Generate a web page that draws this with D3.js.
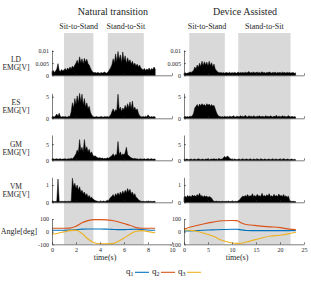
<!DOCTYPE html>
<html>
<head>
<meta charset="utf-8">
<title>EMG natural vs device assisted</title>
<script src="https://d3js.org/d3.v7.min.js"></script>
<style>
  body { margin: 0; background: #fff; }
  svg { display: block; }
  text { font-family: "Liberation Serif", "Times New Roman", serif; }
  .axis path, .axis line { stroke: #262626; stroke-width: 0.6px; }
  .axis text { fill: #262626; font-size: 6px; font-family: "Liberation Serif", "Times New Roman", serif; }
</style>
</head>
<body>
<svg width="311" height="284"></svg>
<script>
// time grid of the EMG samples (s)
var stepL = 0.1, stepR = 0.25;

// LD in 1e-3 V, left = natural transition, right = device assisted
var ldLeft = [1.5,2.0,1.2,1.8,2.6,4.8,2.0,1.6,2.4,1.8, 2.2,2.8,2.0,3.0,2.4,3.4,2.6,3.8,3.0,4.2,
  5.0,6.2,4.4,7.6,5.2,6.8,4.6,7.0,5.4,6.6, 4.8,4.2,3.0,2.0,1.4,1.0,1.2,0.9,1.1,1.0,
  0.8,1.2,0.9,1.1,1.4,0.8,1.0,1.6,2.4,3.2, 4.4,6.8,5.0,8.8,5.6,9.8,6.4,8.4,5.2,9.6,
  6.0,8.0,4.8,7.2,5.4,6.4,4.6,5.8,4.2,5.0, 3.8,4.6,3.4,4.2,3.0,2.6,2.2,2.8,2.0,2.6,
  2.2,3.0,2.0,2.8,2.4,3.4,2.6];
var ldRight = [0.8,1.0,0.7,0.9, 1.0,1.4,1.2,1.6, 2.0,3.4,2.6,4.2, 3.2,5.0,3.6,5.8,
  4.0,5.6,4.2,5.4, 3.8,5.8,4.0,5.2, 3.4,4.6,2.6,2.0, 1.4,1.2,1.0,1.1,
  0.9,1.1,0.8,1.2,1.0,0.9,1.3,0.8, 1.1,0.9,1.2,1.0,0.8,1.4,0.9,1.1,
  1.0,1.2,0.9,1.3,1.0,1.1,1.6,0.9, 1.2,1.0,1.4,0.9,1.1,1.3,1.0,1.2,
  0.9,1.5,1.0,1.1,0.9,1.2,1.0,1.4, 1.1,0.9,1.2,1.0,1.3,0.9,1.1,1.0,
  1.2,0.9,1.3,1.0,1.1,0.9,1.2,1.0, 1.1,0.9,1.0,1.2,0.8,1.0];

var esLeft = [0.3,0.4,0.3,0.6,1.0,0.5,1.2,0.4,0.3,0.4, 0.3,0.4,0.3,0.3,0.5,0.4,1.5,3.6,2.4,4.6,
  3.2,5.2,3.6,5.8,3.8,5.6,3.0,4.6,2.6,3.6, 2.2,2.8,1.4,0.8,0.4,0.3,0.3,0.4,0.3,0.3,
  0.3,0.4,0.3,0.3,0.4,0.3,0.4,0.3,0.5,0.8, 1.6,2.2,1.4,2.0,1.8,5.6,2.0,2.6,1.6,2.4,
  2.0,3.0,2.2,3.4,2.4,3.8,2.2,4.0,2.0,2.6, 1.8,2.2,1.2,0.6,0.4,0.3,0.4,0.3,0.5,0.3,
  0.8,0.4,0.3,0.4,0.3,0.4,0.3];
var esRight = [0.3,0.4,0.3,0.4,0.3,0.5,0.4,0.6, 1.2,2.4,2.8,3.2,2.6,3.3,2.9,3.4,
  3.0,3.2,2.8,3.4,3.0,3.3,2.8,3.2, 2.8,3.0,2.2,1.4,0.8,0.5,0.4,0.3,
  0.4,0.3,0.5,0.3,0.4,0.3,0.5,0.4, 0.3,0.6,0.4,0.3,0.5,0.4,0.3,0.6,
  0.4,0.5,0.3,0.7,0.4,0.3,0.6,0.4, 0.5,0.3,0.6,0.4,0.3,0.5,0.4,0.6,
  0.3,0.5,0.4,0.3,0.6,0.4,0.5,0.3, 0.6,0.4,0.3,0.5,0.4,0.7,0.3,0.5,
  0.4,0.3,0.6,0.4,0.5,0.3,0.4,0.6, 0.4,0.3,0.5,0.3,0.4,0.3];

var gmLeft = [0.4,0.5,0.3,0.4,0.5,0.3,0.4,0.5,0.3,0.4, 0.4,0.5,0.3,0.4,0.5,0.4,0.6,0.5,0.8,1.4,
  2.0,3.2,2.4,6.4,3.0,4.0,2.6,6.4,3.2,4.2, 2.6,3.4,2.0,2.6,1.6,1.2,1.4,1.0,0.8,0.7,
  0.8,0.6,0.7,0.5,0.6,0.5,0.8,0.6,0.9,1.2, 1.4,2.0,1.2,1.8,1.6,5.8,1.8,2.6,1.4,2.0,
  1.6,2.4,4.0,1.8,1.4,1.0,0.8,0.6,0.5,0.6, 0.4,0.5,0.3,0.4,0.5,0.3,0.4,0.5,0.3,0.4,
  0.5,0.3,0.4,0.5,0.3,0.4,0.4];
var gmRight = [0.3,0.2,0.4,0.3,0.2,0.3,0.4,0.2, 0.3,0.4,0.2,0.3,0.5,0.3,0.2,0.4,
  0.3,0.2,0.4,0.3,0.5,0.2,0.3,0.4, 0.3,0.5,0.3,0.4,0.2,0.6,0.3,0.4,
  0.4,0.9,1.2,0.8,1.3,1.1,0.6,0.4,
  0.3,0.2,0.4,0.3,0.2,0.3,0.4,0.2, 0.3,0.5,0.2,0.3,0.4,0.3,0.2,0.5,
  0.3,0.2,0.4,0.3,0.2,0.4,0.3,0.2, 0.5,0.3,0.2,0.4,0.3,0.2,0.3,0.4,
  0.2,0.3,0.5,0.2,0.3,0.4,0.2,0.3, 0.4,0.2,0.3,0.5,0.3,0.2,0.4,0.3,
  0.2,0.3,0.4,0.2,0.3,0.2];

var vmLeft = [0.05,0.06,0.04,0.05,0.06,1.35,0.05,0.04,0.06,0.05, 0.05,0.06,0.04,0.05,0.06,0.05,0.06,1.4,0.9,1.1,
  0.8,1.0,0.7,0.9,0.6,0.7,0.5,0.6,0.4,0.5, 0.3,0.4,0.25,0.3,0.2,0.15,0.1,0.08,0.06,0.05,
  0.05,0.06,0.04,0.08,0.05,0.06,0.12,0.08,0.2,0.3, 0.35,0.45,0.3,0.5,0.4,0.55,0.4,0.6,0.45,0.65,
  0.5,0.7,0.55,0.8,0.6,0.75,0.5,0.6,0.4,0.5, 0.3,0.25,0.15,0.1,0.06,0.05,0.06,0.04,0.05,0.06,
  0.05,0.04,0.06,0.05,0.04,0.06,0.05];
var vmRight = [0.3,0.35,0.28,0.4,0.32,0.38,0.3,0.42, 0.35,0.4,0.32,0.45,0.36,0.52,0.34,0.4,
  0.3,0.38,0.32,0.36,0.28,0.34,0.3,0.25,
  0.12,0.06,0.05,0.07,0.04,0.06,0.05,0.04, 0.06,0.05,0.04,0.06,0.05,0.07,0.04,0.05,
  0.06,0.04,0.05,0.06,0.04,0.08,0.12,0.2,
  0.3,0.36,0.32,0.4,0.34,0.45,0.33,0.38, 0.35,0.5,0.34,0.4,0.32,0.46,0.36,0.38,
  0.34,0.52,0.35,0.4,0.33,0.44,0.36,0.5, 0.34,0.38,0.32,0.46,0.35,0.4,0.33,0.48,
  0.36,0.4,0.34,0.45,0.32,0.38,0.3,0.36,
  0.12,0.06,0.05,0.06,0.04,0.05];

// joint angles (deg)
var angTimeL = [0, 0.5, 1.0, 1.5, 2.0, 2.5, 3.0, 3.5, 4.0, 4.5, 5.0, 5.5, 6.0, 6.5, 7.0, 7.5, 8.0, 8.6];
var q1Left = [11, 11, 11, 12, 16, 20, 21, 21, 21, 20, 18, 16, 16, 18, 19, 17, 13, 11];
var q2Left = [27, 27, 27, 28, 42, 70, 87, 95, 95, 93, 88, 78, 64, 50, 32, 27, 27, 27];
var q3Left = [-21, -12, -2, 8, 12, -15, -58, -88, -96, -96, -95, -78, -50, -20, 3, 8, 0, -10];

var angTimeR = [0, 2, 4, 6, 8, 10, 11, 12, 13, 14, 16, 18, 20, 22, 23.3];
var q1Right = [5, 8, 11, 14, 17, 19, 19, 14, 9, 8, 8, 8, 8, 8, 8];
var q2Right = [20, 42, 60, 75, 86, 88, 87, 68, 56, 52, 44, 38, 32, 20, 16];
var q3Right = [15, 8, -10, -35, -70, -90, -93, -92, -82, -72, -52, -35, -28, -15, -5];

// phase windows (s)
var phasesL = [[1.0, 3.45], [4.65, 7.65]];
var phasesR = [[1.1, 8.5], [11.3, 22.2]];
var phaseNames = ["Sit-to-Stand", "Stand-to-Sit"];
var titles = ["Natural transition", "Device Assisted"];
var qColors = ["#0072BD", "#D95319", "#EDB120"];

var svg = d3.select("svg");
var serif = "'Liberation Serif', 'Times New Roman', serif";
var plain = function (d) { return String(d); };

var xL = d3.scaleLinear().domain([0, 10]).range([52, 172]);
var xR = d3.scaleLinear().domain([0, 25]).range([184, 304]);

var rows = [
  { name: "LD", y: d3.scaleLinear().domain([0, 10.4]).range([75.3, 50]), ticks: [0, 5, 10],
    fmt: function (d) { return d === 0 ? "0" : String(d / 1000); }, left: ldLeft, right: ldRight },
  { name: "ES", y: d3.scaleLinear().domain([0, 5.8]).range([118.3, 93.3]), ticks: [0, 5], left: esLeft, right: esRight },
  { name: "GM", y: d3.scaleLinear().domain([0, 7.8]).range([160.3, 135]), ticks: [0, 5], left: gmLeft, right: gmRight },
  { name: "VM", y: d3.scaleLinear().domain([0, 1.45]).range([202.3, 177.3]), ticks: [0, 1], left: vmLeft, right: vmRight }
];
var yA = d3.scaleLinear().domain([-100, 100]).range([244.3, 219]);

var sides = [
  { x: xL, step: stepL, phases: phasesL, key: "left", t: angTimeL, q: [q1Left, q2Left, q3Left], ticks: [0, 2, 4, 6, 8, 10] },
  { x: xR, step: stepR, phases: phasesR, key: "right", t: angTimeR, q: [q1Right, q2Right, q3Right], ticks: [0, 5, 10, 15, 20, 25] }
];

function styleAxis(g) {
  g.attr("font-family", serif).attr("font-size", 6);
}

sides.forEach(function (s, si) {
  // shaded phases
  s.phases.forEach(function (p, pi) {
    svg.append("rect")
      .attr("x", s.x(p[0])).attr("y", 33)
      .attr("width", s.x(p[1]) - s.x(p[0])).attr("height", 244.3 - 33)
      .attr("fill", "#d9d9d9");
    svg.append("text")
      .attr("x", (s.x(p[0]) + s.x(p[1])) / 2).attr("y", 28.5)
      .attr("text-anchor", "middle").attr("font-size", "8px").attr("fill", "#262626")
      .attr("font-family", serif)
      .text(phaseNames[pi]);
  });

  svg.append("text")
    .attr("x", (s.x.range()[0] + s.x.range()[1]) / 2 + 1).attr("y", 15)
    .attr("text-anchor", "middle").attr("font-size", "10px").attr("fill", "#262626")
    .attr("font-family", serif)
    .text(titles[si]);

  rows.forEach(function (r) {
    var vals = r[s.key];
    var area = d3.area()
      .x(function (d, i) { return s.x(i * s.step); })
      .y0(r.y(0))
      .y1(function (d) { return r.y(d); });
    svg.append("path")
      .datum(vals)
      .attr("d", area)
      .attr("fill", "#000")
      .attr("stroke", "#000")
      .attr("stroke-width", 0.5)
      .attr("stroke-linejoin", "miter");

    var ya = d3.axisLeft(r.y).tickValues(r.ticks).tickSizeInner(-2).tickSizeOuter(0).tickPadding(3)
      .tickFormat(r.fmt || plain);
    svg.append("g").attr("class", "axis")
      .attr("transform", "translate(" + s.x.range()[0] + ",0)")
      .call(ya).call(styleAxis);

    svg.append("g").attr("class", "axis")
      .attr("transform", "translate(0," + r.y(0) + ")")
      .call(d3.axisBottom(s.x).tickValues(s.ticks).tickSizeInner(-2).tickSizeOuter(0).tickFormat(""));
  });

  // joint angles
  s.q.forEach(function (vals, qi) {
    var line = d3.line()
      .x(function (d, i) { return s.x(s.t[i]); })
      .y(function (d) { return yA(d); })
      .curve(d3.curveMonotoneX);
    svg.append("path")
      .datum(vals)
      .attr("d", line)
      .attr("fill", "none")
      .attr("stroke", qColors[qi])
      .attr("stroke-width", 1.1);
  });

  svg.append("g").attr("class", "axis")
    .attr("transform", "translate(" + s.x.range()[0] + ",0)")
    .call(d3.axisLeft(yA).tickValues([-100, 0, 100]).tickSizeInner(-2).tickSizeOuter(0).tickPadding(3).tickFormat(plain))
    .call(styleAxis);
  svg.append("g").attr("class", "axis")
    .attr("transform", "translate(0," + yA(-100) + ")")
    .call(d3.axisBottom(s.x).tickValues(s.ticks).tickSizeInner(-2).tickSizeOuter(0).tickPadding(3).tickFormat(plain))
    .call(styleAxis);

  svg.append("text")
    .attr("x", (s.x.range()[0] + s.x.range()[1]) / 2 - 7).attr("y", 260)
    .attr("text-anchor", "middle").attr("font-size", "8px").attr("fill", "#262626")
    .attr("font-family", serif)
    .text("time(s)");
});

// row labels
rows.forEach(function (r) {
  var mid = (r.y.range()[0] + r.y.range()[1]) / 2;
  var t = svg.append("text").attr("text-anchor", "middle").attr("font-size", "7.5px")
    .attr("fill", "#262626").attr("font-family", serif);
  t.append("tspan").attr("x", 16).attr("y", mid - 1).text(r.name);
  t.append("tspan").attr("x", 16).attr("y", mid + 7).text("EMG[V]");
});
svg.append("text")
  .attr("x", 19).attr("y", 234).attr("text-anchor", "middle")
  .attr("font-size", "8px").attr("fill", "#262626").attr("font-family", serif)
  .text("Angle[deg]");

// legend
var legX = [126, 152, 178];
legX.forEach(function (lx, i) {
  var t = svg.append("text").attr("x", lx).attr("y", 274)
    .attr("font-size", "9px").attr("fill", "#262626").attr("font-family", serif);
  t.append("tspan").text("q");
  t.append("tspan").attr("font-size", "6px").attr("dy", 2).text(i + 1);
  svg.append("line")
    .attr("x1", lx + 9).attr("x2", lx + 23)
    .attr("y1", 272.3).attr("y2", 272.3)
    .attr("stroke", qColors[i]).attr("stroke-width", 1.1);
});
</script>
</body>
</html>
